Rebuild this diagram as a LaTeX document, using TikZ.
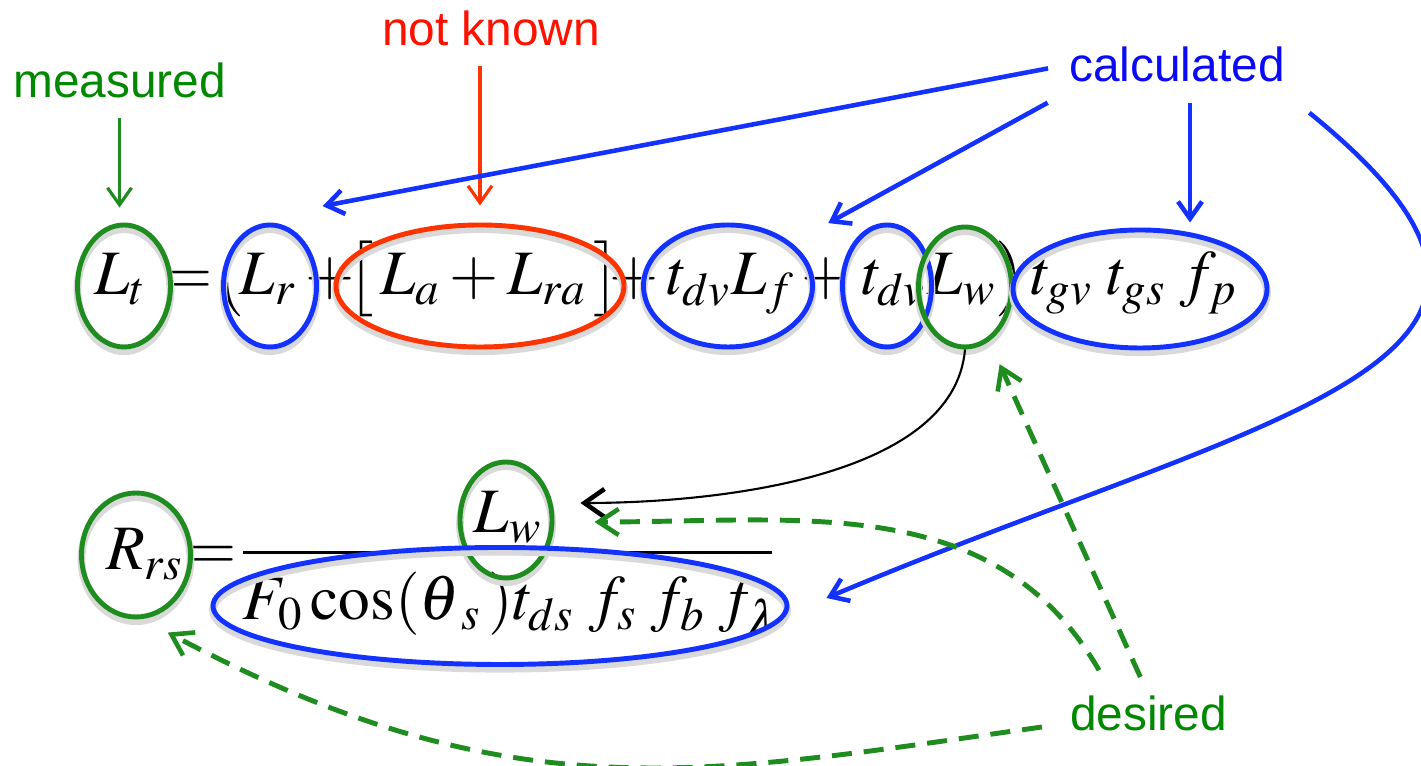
\documentclass[tikz,border=0pt]{standalone}
\usepackage{mathptmx}
\usepackage[no-math]{fontspec}
\newfontfamily\labelfont{Liberation Sans}
\usetikzlibrary{arrows.meta,calc,shapes.geometric}
\definecolor{EqGreen}{HTML}{1E8C1E}
\definecolor{EqBlue}{HTML}{1432FF}
\definecolor{EqRed}{HTML}{FF3300}
\definecolor{TxtGreen}{HTML}{008800}
\definecolor{TxtBlue}{HTML}{0A0AF5}
\definecolor{TxtRed}{HTML}{FF1100}
\newcommand{\eqsize}{\fontsize{18}{22}\selectfont}
\newcommand{\tagsize}{\labelfont\fontsize{13.6}{16}\selectfont}

\begin{document}
\begin{tikzpicture}[
  ring/.style={draw=#1,ellipse,line width=1.4pt,inner sep=0pt,
    preaction={draw=black!15,line width=2.2pt,transform canvas={yshift=-1.2pt}}},
  term/.style={inner sep=0pt,anchor=base,font=\eqsize},
  tag/.style={inner sep=0pt,text=#1,font=\tagsize},
  callout/.style={-{Straight Barb[length=0.17cm,width=0.24cm]},line width=1.3pt,draw=#1},
  wish/.style={-{Straight Barb[length=0.2cm,width=0.26cm,line width=1.3pt]},line width=1.4pt,EqGreen,dash pattern=on 5.7pt off 3.4pt},
]
  \useasboundingbox (0,0) rectangle (14.21,7.66);
  % labels
  \node[tag=TxtGreen] (measured) at (1.195,6.86) {measured};
  \node[tag=TxtRed] (notknown) at (4.91,7.38) {not known};
  \node[tag=TxtBlue] (calculated) at (11.77,7.015) {calculated};
  \node[tag=TxtGreen] (desired) at (11.485,0.525) {desired};
  % top equation
  \node[term] (Lt-txt) at (1.20,4.71) {$L_t$};
  \node[term] (eq1) at (1.88,4.71) {$=$};
  \node[term] (lpar) at (2.29,4.71) {$\big($};
  \node[term] (Lr-txt) at (2.68,4.71) {$L_r$};
  \node[term] (plus1) at (3.30,4.71) {$+$};
  \node[term] (Lara-txt) at (4.835,4.71) {$\big[\,L_a+L_{ra}\,\big]$};
  \node[term] (plus2) at (6.34,4.71) {$+$};
  \node[term] (tdvLf-txt) at (7.31,4.71) {$t_{dv}L_f$};
  \node[term] (plus3) at (8.26,4.71) {$+$};
  \node[term] (tdv-txt) at (8.94,4.71) {$t_{dv}$};
  \node[term] (Lw-txt) at (9.62,4.71) {$L_w$};
  \node[term] (rpar) at (10.11,4.71) {$\big)$};
  \node[term] (tgv-txt) at (11.34,4.71) {$t_{gv}\;t_{gs}\;f_p$};
  \node[ring=EqGreen,minimum width=0.93cm,minimum height=1.22cm] (Lt) at (1.24,4.80) {};
  \node[ring=EqBlue,minimum width=0.93cm,minimum height=1.22cm] (Lr) at (2.70,4.80) {};
  \node[ring=EqRed,minimum width=2.88cm,minimum height=1.22cm] (Lara) at (4.80,4.80) {};
  \node[ring=EqBlue,minimum width=1.69cm,minimum height=1.22cm] (tdvLf) at (7.28,4.80) {};
  \node[ring=EqBlue,minimum width=0.89cm,minimum height=1.22cm] (tdv) at (8.87,4.80) {};
  \node[ring=EqGreen,minimum width=0.93cm,minimum height=1.20cm] (Lw) at (9.65,4.79) {};
  \node[ring=EqBlue,minimum width=2.54cm,minimum height=1.18cm] (tgv) at (11.40,4.77) {};
  % bottom equation
  \node[term] (Rrs-txt) at (1.45,1.96) {$R_{rs}$};
  \node[term] (eq2) at (2.125,1.96) {$=$};
  \node[term] (Lw2-txt) at (5.08,2.33) {$L_w$};
  \node[term] (den-txt) at (5.12,1.46) {$F_{\kern1pt 0}\cos(\theta_{\kern2.5pt s}\,)t_{ds}\;f_s\;f_b\;f_\lambda$};
  \draw[line width=0.85pt] (2.43,2.13) -- (7.72,2.13);
  \node[ring=EqGreen,minimum width=1.09cm,minimum height=1.24cm] (Rrs) at (1.36,2.11) {};
  \node[ring=EqGreen,minimum width=0.92cm,minimum height=1.16cm] (Lw2) at (5.06,2.46) {};
  \node[ring=EqBlue,minimum width=5.74cm,minimum height=1.17cm] (den) at (5.00,1.60) {};
  % arrow ends
  \coordinate (rtip) at ($(Lr.north east)+(0.18,0.35)$);
  \coordinate (ctd) at ($(calculated.south west)+(-0.21,-0.20)$);
  \coordinate (tdtip) at ($(tdv.north west)+(-0.255,0.18)$);
  \coordinate (ctg) at ($(calculated.south)+(0.13,-0.20)$);
  \coordinate (cden) at ($(calculated.south east)+(0.24,-0.30)$);
  \coordinate (dtip) at ($(den.east)+(0.37,0.08)$);
  \coordinate (wtip) at ($(Lw2.east)+(0.26,0.17)$);
  \coordinate (d1tip) at ($(Lw.south east)+(0,-0.33)$);
  \coordinate (d2s) at ($(desired.north)+(-0.495,0.25)$);
  \coordinate (d2tip) at ($(Lw2.east)+(0.40,-0.02)$);
  \coordinate (d3s) at ($(desired.west)+(-0.275,-0.135)$);
  \coordinate (d3tip) at ($(Rrs.south east)+(-0.085,-0.32)$);
  % measured / not known
  \draw[callout=EqGreen,line width=0.9pt,shorten <=0.2cm,shorten >=0.15cm] (measured.south) -- (measured.south |- Lt.north);
  \draw[callout=EqRed,line width=0.9pt,shorten <=0.2cm,shorten >=0.17cm] (notknown.south -| Lara.north) -- (Lara.north);
  % calculated
  \draw[callout=EqBlue,shorten <=0.21cm] (calculated.west) -- (rtip);
  \draw[callout=EqBlue] (ctd) -- (tdtip);
  \draw[callout=EqBlue,shorten >=0.05cm] (ctg) -- (ctg |- tgv.north);
  \draw[callout=EqBlue] (cden) .. controls +(3.11,-2.52) and +(4.46,1.88) .. (dtip);
  % L_w carried down
  \draw[-{Straight Barb[length=0.2cm,width=0.28cm,line width=1.3pt]},line width=0.6pt] (Lw.south) .. controls +(-0.11,-1.3) and +(1.3,0) .. (wtip);
  % desired
  \draw[wish,shorten <=0.2cm] (desired.north) -- (d1tip);
  \draw[wish] (d2s) .. controls +(120:2.07) and +(2.07,0) .. (d2tip);
  \draw[wish] (d3s) .. controls +(188:3.46) and +(-28:3.9) .. (d3tip);
\end{tikzpicture}
\end{document}
